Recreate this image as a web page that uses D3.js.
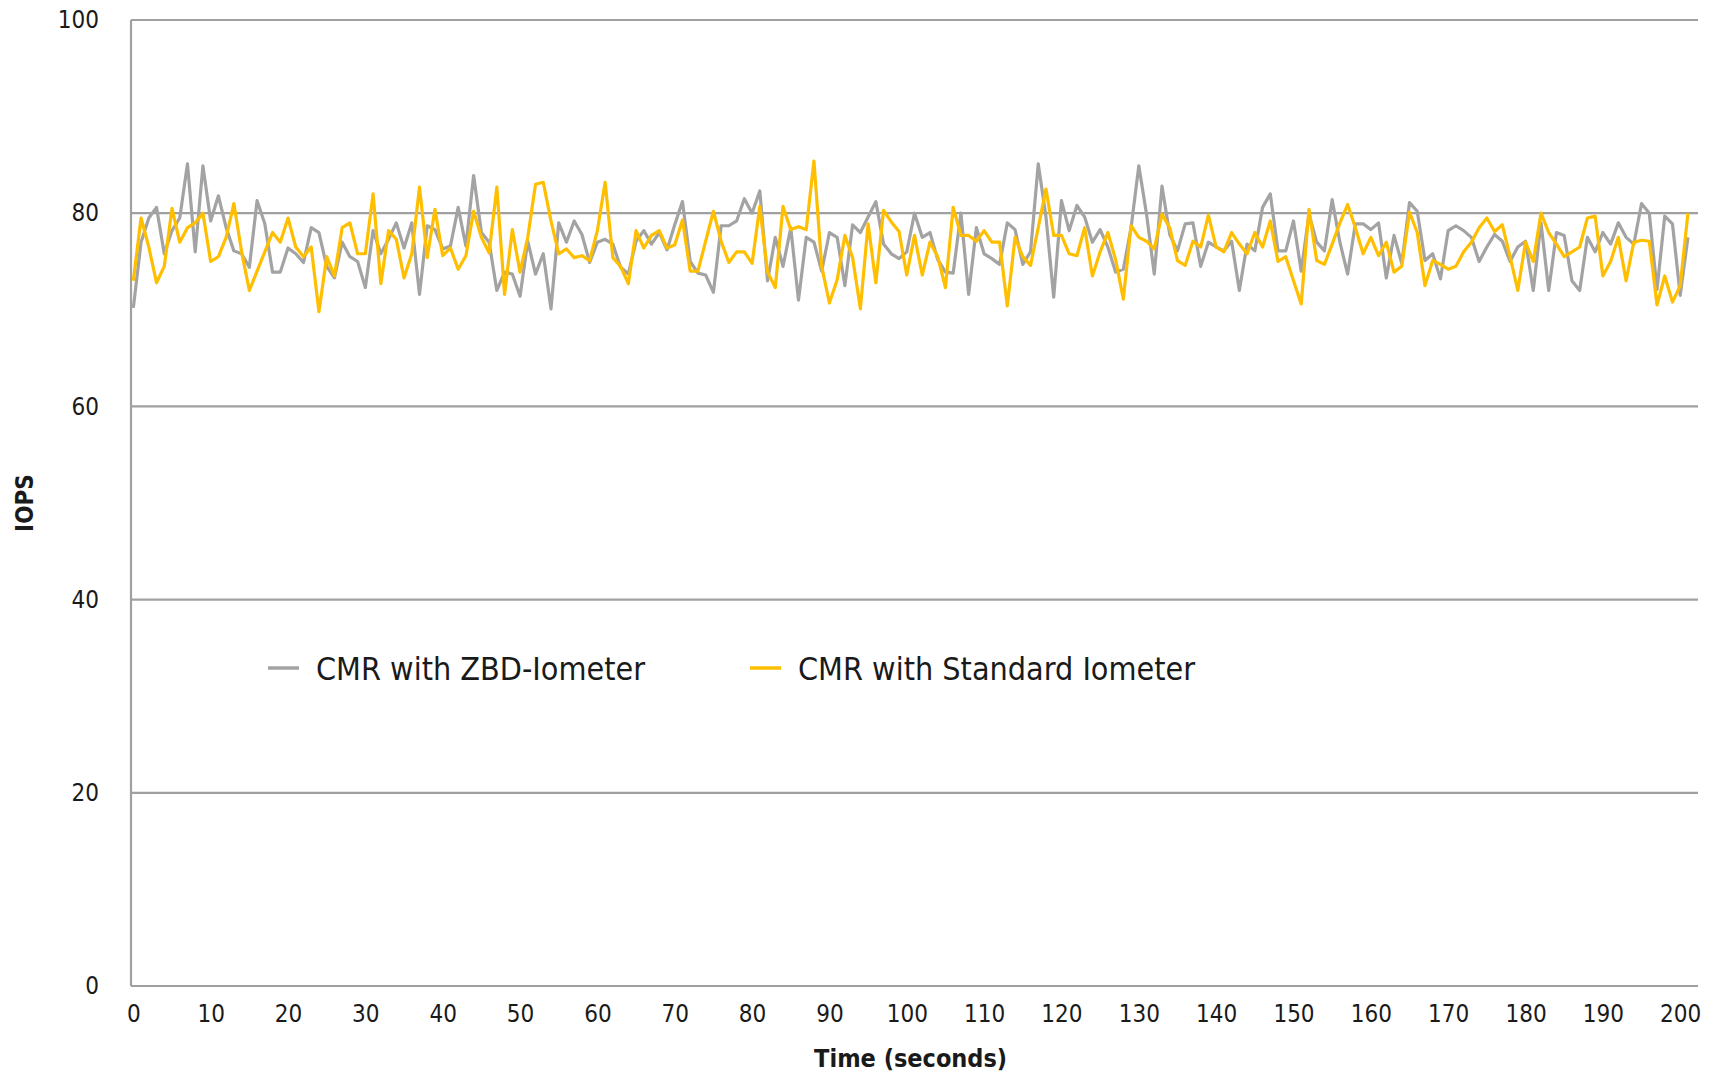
<!DOCTYPE html>
<html>
<head>
<meta charset="utf-8">
<script src="https://cdn.jsdelivr.net/npm/d3@7"></script>
<style>
  body { margin: 0; background: #fff; }
  svg text { font-family: "DejaVu Sans Condensed", "Liberation Sans Narrow", "DejaVu Sans", sans-serif; fill: #1a1a1a; }
</style>
</head>
<body>
<svg id="chart" width="1723" height="1072"></svg>
<script>
// values, one per second
var zbdIometer = [
  70.2, 77, 79.5, 80.6, 75.8, 78.2, 79.5, 85.1, 76, 84.9,
  79.2, 81.8, 78.5, 76.1, 75.8, 74.4, 81.3, 78.9, 73.9, 73.9,
  76.4, 75.8, 74.9, 78.5, 78, 74.5, 73.3, 77, 75.5, 75,
  72.3, 78.2, 75.8, 77.3, 79, 76.4, 79, 71.6, 78.7, 78.3,
  76.3, 76.6, 80.6, 76.6, 83.9, 78, 77, 72, 73.9, 73.7,
  71.4, 77.1, 73.7, 75.8, 70.1, 79, 77, 79.2, 77.8, 74.9,
  77, 77.3, 76.8, 74.4, 73.7, 77.1, 78.2, 76.8, 78, 76.2,
  78.8, 81.2, 75, 73.8, 73.6, 71.8, 78.7, 78.7, 79.2, 81.5,
  80, 82.3, 73, 77.5, 74.5, 78.5, 71, 77.5, 77, 74,
  78, 77.5, 72.5, 78.8, 78, 79.6, 81.2, 76.8, 75.8, 75.3,
  76, 80, 77.5, 78, 75.2, 73.9, 73.8, 80, 71.6, 78.5,
  75.8, 75.3, 74.7, 79, 78.3, 74.7, 76, 85.1, 79.6, 71.3,
  81.3, 78.2, 80.8, 79.6, 77, 78.3, 76.5, 73.9, 74.2, 78.5,
  84.9, 79.9, 73.7, 82.8, 77.8, 76.1, 78.9, 79, 74.5, 77,
  76.5, 76.1, 77.1, 72, 76.8, 76.1, 80.6, 82, 76.1, 76.1,
  79.2, 74, 79.9, 77, 76.1, 81.4, 77, 73.7, 78.9, 78.9,
  78.3, 79, 73.3, 77.7, 74.8, 81.1, 80.2, 75.1, 75.8, 73.2,
  78.2, 78.7, 78.2, 77.5, 75, 76.5, 77.8, 77.1, 75, 76.5,
  77.1, 72, 79, 72, 78, 77.7, 73, 72, 77.5, 76,
  78, 76.8, 79, 77.5, 76.8, 81, 80, 72.1, 79.7, 78.9,
  71.5, 77.5
];

var standardIometer = [
  73, 79.5, 76.5, 72.8, 74.5, 80.5, 77, 78.5, 79, 80,
  75, 75.5, 77.5, 81, 76, 72, 74, 76, 78, 77,
  79.5, 76.5, 75.5, 76.5, 69.8, 75.5, 73.5, 78.5, 79, 75.8,
  75.8, 82, 72.7, 78.2, 77.3, 73.3, 75.8, 82.7, 75.4, 80.4,
  75.6, 76.4, 74.2, 75.6, 80.2, 77.5, 75.9, 82.7, 71.6, 78.3,
  73.9, 77.5, 83, 83.2, 79.2, 75.8, 76.3, 75.4, 75.6, 75.1,
  78.2, 83.2, 75.4, 74.5, 72.7, 78.2, 76.4, 77.7, 78.2, 76.4,
  76.7, 79.3, 74, 74, 77.1, 80.2, 77.1, 74.9, 76, 76,
  74.8, 80.7, 73.9, 72.3, 80.7, 78.3, 78.6, 78.3, 85.4, 74.5,
  70.7, 73.1, 77.7, 75.4, 70.1, 78.9, 72.8, 80.3, 79.1, 78.1,
  73.6, 77.7, 73.6, 77, 75.5, 72.3, 80.6, 77.7, 77.7, 77.1,
  78.2, 77, 77, 70.4, 77.5, 75.5, 74.6, 78.5, 82.5, 77.7,
  77.7, 75.8, 75.6, 78.5, 73.5, 76, 78, 75.2, 71.1, 78.7,
  77.5, 77.1, 76.3, 79.9, 78.5, 75.1, 74.6, 77.1, 76.5, 79.8,
  76.5, 76, 78, 76.8, 75.8, 78, 76.5, 79.2, 75, 75.5,
  73, 70.6, 80.4, 75.1, 74.7, 76.8, 79, 80.9, 78.5, 75.8,
  77.5, 75.6, 77, 73.9, 74.5, 80.1, 78, 72.5, 75.1, 74.7,
  74.2, 74.5, 76, 77, 78.5, 79.5, 78.1, 78.8, 75.5, 72,
  77, 75, 80, 78, 76.8, 75.5, 76, 76.5, 79.5, 79.7,
  73.5, 75, 77.5, 73, 77, 77.2, 77.1, 70.5, 73.5, 70.8,
  72.5, 80
];

var seriesNames = ["CMR with ZBD-Iometer", "CMR with Standard Iometer"];
var seriesColors = ["#a3a3a3", "#ffbf00"];
var xTicks = d3.range(0, 201, 10);
var yTicks = [0, 20, 40, 60, 80, 100];

var svg = d3.select("#chart"),
  margin = { "top": 20, "right": 25, "bottom": 86, "left": 131 },
  width = 1723 - margin.left - margin.right,
  height = 1072 - margin.top - margin.bottom;

var x = d3.scaleLinear()
  .domain([-0.3, 202.3])
  .range([0, width]);

var y = d3.scaleLinear()
  .domain([0, 100])
  .range([height, 0]);

var g = svg.append("g")
  .attr("transform", "translate(" + margin.left + "," + margin.top + ")");

// horizontal grid
g.selectAll(".grid")
  .data(yTicks)
  .enter().append("line")
  .attr("class", "grid")
  .attr("x1", 0)
  .attr("x2", width)
  .attr("y1", function(d) { return y(d); })
  .attr("y2", function(d) { return y(d); })
  .style("stroke", "#a0a0a0")
  .style("stroke-width", 2.2);

g.append("line")
  .attr("x1", 0).attr("x2", 0)
  .attr("y1", 0).attr("y2", height)
  .style("stroke", "#a0a0a0")
  .style("stroke-width", 2.2);

// axes, labels only
var yAxis = g.append("g")
  .call(d3.axisLeft(y).tickValues(yTicks).tickSize(0).tickPadding(32));
yAxis.select(".domain").remove();
yAxis.selectAll("text")
  .style("font-size", "24px")
  .attr("dy", "0.32em");

var xAxis = g.append("g")
  .attr("transform", "translate(0," + height + ")")
  .call(d3.axisBottom(x).tickValues(xTicks).tickSize(0).tickPadding(19));
xAxis.select(".domain").remove();
xAxis.selectAll("text")
  .style("font-size", "24px");

svg.append("text")
  .attr("x", margin.left + x(100.5))
  .attr("y", 1067)
  .attr("text-anchor", "middle")
  .style("font-size", "25px")
  .style("font-weight", "bold")
  .text("Time (seconds)");

svg.append("text")
  .attr("transform", "translate(33,503) rotate(-90)")
  .attr("text-anchor", "middle")
  .style("font-size", "24px")
  .style("font-weight", "bold")
  .text("IOPS");

var line = d3.line()
  .x(function(d, i) { return x(i); })
  .y(function(d) { return y(d); });

[zbdIometer, standardIometer].forEach(function(values, k) {
  g.append("path")
    .datum(values)
    .attr("d", line)
    .style("fill", "none")
    .style("stroke", seriesColors[k])
    .style("stroke-width", 3.2)
    .style("stroke-linejoin", "round");
});

// legend
var legendX = [268, 750];
var legend = svg.selectAll(".legend")
  .data(seriesNames)
  .enter().append("g")
  .attr("class", "legend")
  .attr("transform", function(d, i) { return "translate(" + legendX[i] + ",668)"; });

legend.append("line")
  .attr("x1", 0).attr("x2", 31)
  .style("stroke", function(d, i) { return seriesColors[i]; })
  .style("stroke-width", 3.5);

legend.append("text")
  .attr("x", 48)
  .attr("dy", "0.36em")
  .style("font-size", "32px")
  .text(function(d) { return d; });
</script>
</body>
</html>
